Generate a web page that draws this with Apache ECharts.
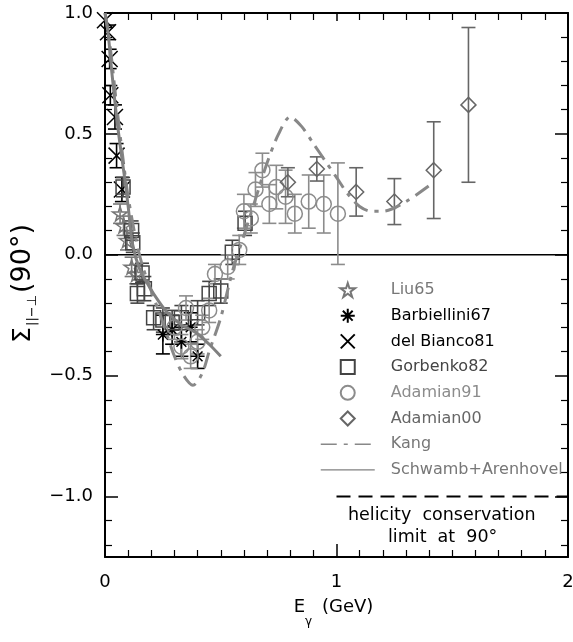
<!DOCTYPE html>
<html><head><meta charset="utf-8">
<script src="https://cdn.jsdelivr.net/npm/echarts@6/dist/echarts.min.js"></script>
<style>html,body{margin:0;padding:0;background:#fff}#c{width:573px;height:642px}</style>
</head><body><div id="c"></div>
<script>
// ---- data ----
const liu65X = [0.065, 0.08, 0.095, 0.115, 0.135];
const liu65Y = [0.17, 0.12, 0.06, -0.05, -0.08];
const liu65E = [0.04, 0.04, 0.04, 0.04, 0.04];

const barbX = [0.25, 0.29, 0.33, 0.37, 0.40];
const barbY = [-0.33, -0.31, -0.36, -0.30, -0.42];
const barbE = [0.08, 0.06, 0.06, 0.06, 0.05];

const delBiancoX = [0.0, 0.013, 0.02, 0.023, 0.043, 0.05, 0.073];
const delBiancoY = [0.97, 0.92, 0.81, 0.66, 0.57, 0.41, 0.27];
const delBiancoE = [0.03, 0.03, 0.04, 0.04, 0.05, 0.05, 0.05];

const gorbX = [0.078, 0.115, 0.12, 0.14, 0.16, 0.17, 0.21, 0.25, 0.29, 0.33, 0.40, 0.45, 0.50, 0.55, 0.605];
const gorbY = [0.28, 0.10, 0.05, -0.16, -0.075, -0.14, -0.26, -0.27, -0.28, -0.26, -0.24, -0.16, -0.15, 0.01, 0.13];
const gorbE = [0.04, 0.04, 0.04, 0.04, 0.04, 0.05, 0.05, 0.05, 0.05, 0.05, 0.05, 0.05, 0.05, 0.05, 0.05];

const ad91X = [0.30, 0.33, 0.35, 0.37, 0.40, 0.42, 0.45, 0.475, 0.53, 0.58, 0.60, 0.63, 0.65, 0.68, 0.71, 0.74, 0.78, 0.82, 0.88, 0.945, 1.006];
const ad91Y = [-0.30, -0.38, -0.22, -0.42, -0.36, -0.30, -0.23, -0.08, -0.05, 0.02, 0.18, 0.15, 0.27, 0.35, 0.21, 0.28, 0.24, 0.17, 0.22, 0.21, 0.17];
const ad91E = [0.05, 0.05, 0.05, 0.05, 0.05, 0.05, 0.05, 0.04, 0.05, 0.06, 0.07, 0.06, 0.07, 0.07, 0.08, 0.09, 0.11, 0.08, 0.11, 0.12, 0.21];

const ad00X = [0.79, 0.915, 1.085, 1.25, 1.42, 1.57];
const ad00Y = [0.30, 0.355, 0.26, 0.22, 0.35, 0.62];
const ad00E = [0.06, 0.05, 0.10, 0.095, 0.20, 0.32];

const kangX = [0, 0.02, 0.05, 0.08, 0.10, 0.13, 0.16, 0.20, 0.25, 0.30, 0.34, 0.38, 0.42, 0.45, 0.50, 0.55, 0.60, 0.65, 0.70, 0.75, 0.80, 0.85, 0.90, 0.95, 1.00, 1.05, 1.10, 1.15, 1.20, 1.30, 1.42];
const kangY = [1.0, 0.88, 0.62, 0.38, 0.24, 0.08, -0.04, -0.15, -0.28, -0.42, -0.50, -0.54, -0.49, -0.40, -0.26, -0.07, 0.08, 0.23, 0.38, 0.50, 0.57, 0.53, 0.46, 0.39, 0.32, 0.25, 0.20, 0.18, 0.18, 0.22, 0.30];

const schwX = [0, 0.013, 0.03, 0.05, 0.07, 0.086, 0.10, 0.12, 0.15, 0.19, 0.23, 0.27, 0.33, 0.39, 0.45, 0.50];
const schwY = [1.0, 0.92, 0.75, 0.57, 0.42, 0.31, 0.20, 0.04, -0.06, -0.13, -0.19, -0.24, -0.29, -0.32, -0.37, -0.42];

const limitX = [1.0, 2.0];
const limitY = [-1.0, -1.0];
const zeroX = [0, 2];
const zeroY = [0, 0];

const xTicks = [0, 1, 2];
const yTickLabels = ['-1.0', '-0.5', '0.0', '0.5', '1.0'];

// ---- helpers ----
const pair = (xs, ys) => xs.map((x, i) => [x, ys[i]]);
function errSeries(xs, ys, es, color) {
  return {
    type: 'custom', silent: true, z: 3, clip: true,
    data: xs.map((x, i) => [x, ys[i] - es[i], ys[i] + es[i]]),
    encode: { x: 0, y: [1, 2] },
    renderItem: (params, api) => {
      const lo = api.coord([api.value(0), api.value(1)]);
      const hi = api.coord([api.value(0), api.value(2)]);
      const w = 7, st = { stroke: color, lineWidth: 1.6 };
      return { type: 'group', children: [
        { type: 'line', shape: { x1: lo[0], y1: lo[1], x2: hi[0], y2: hi[1] }, style: st },
        { type: 'line', shape: { x1: lo[0] - w, y1: lo[1], x2: lo[0] + w, y2: lo[1] }, style: st },
        { type: 'line', shape: { x1: hi[0] - w, y1: hi[1], x2: hi[0] + w, y2: hi[1] }, style: st }
      ]};
    }
  };
}
function scat(name, xs, ys, symbol, size, color) {
  return {
    type: 'scatter', name, data: pair(xs, ys), symbol, symbolSize: size, z: 4, symbolKeepAspect: true,
    itemStyle: { color: 'rgba(0,0,0,0)', borderColor: color, borderWidth: 1.5, opacity: 1 },
    emphasis: { disabled: true }
  };
}
const STAR = 'path://M50,2 L61,37 L98,37 L68,59 L79,94 L50,72 L21,94 L32,59 L2,37 L39,37 Z';
const AST = 'path://M50,0L50,100M0,50L100,50M15,15L85,85M85,15L15,85';
const CROSS = 'path://M0,0L100,100M100,0L0,100';
const SQUARE = 'path://M0,0L100,0L100,100L0,100Z';
const DIAMOND = 'path://M50,0L100,50L50,100L0,50Z';
const CIRCLE = 'path://M100,50A50,50,0,1,1,0,50A50,50,0,1,1,100,50Z';

const FONT = 'DejaVu Sans';
const minus = s => String(s).replace('-', '\u2212');

const c1 = '#777', c2 = '#000', c3 = '#000', c4 = '#444', c5 = '#8c8c8c', c6 = '#666';
const noSym = { color: 'rgba(0,0,0,0)', borderColor: 'rgba(0,0,0,0)', borderWidth: 0 };

const chart = echarts.init(document.getElementById('c'), null, { renderer: 'canvas' });
const axCommon = {
  axisLine: { show: true, onZero: false, lineStyle: { color: '#000', width: 2 } },
  axisTick: { show: true, inside: true, length: 13, lineStyle: { color: '#000', width: 1.5 } },
  minorTick: { show: true, splitNumber: 10, length: 7, lineStyle: { color: '#000', width: 1.2 } },
  splitLine: { show: false }
};
chart.setOption({
  animation: false,
  backgroundColor: '#fff',
  grid: { left: 105, right: 5, top: 13, bottom: 85, containLabel: false, outerBoundsMode: 'none' },
  xAxis: [
    Object.assign({ type: 'value', min: xTicks[0], max: xTicks[xTicks.length - 1], interval: 1, position: 'bottom',
      axisLabel: { show: true, margin: 16, color: '#000', fontFamily: FONT, fontSize: 18, formatter: v => String(v) },
      name: '{a|E}{s|\u03b3}{a| (GeV)}', nameLocation: 'middle', nameGap: 41,
      nameTextStyle: { padding: [0, 6, 0, 0], rich: {
        a: { fontFamily: FONT, fontSize: 18, color: '#000', verticalAlign: 'top', lineHeight: 22 },
        s: { fontFamily: FONT, fontSize: 12, color: '#000', verticalAlign: 'bottom', lineHeight: 30, padding: [0, 4, 0, 0] } } }
    }, axCommon),
    Object.assign({ type: 'value', min: 0, max: 2, interval: 1, position: 'top', axisLabel: { show: false } },
      axCommon, { axisTick: { show: true, inside: true, length: 8, lineStyle: { color: '#000', width: 1.5 } } })
  ],
  yAxis: [
    Object.assign({ type: 'value', min: -1.25, max: 1.0, minInterval: 0.5, maxInterval: 0.5, splitNumber: 5, position: 'left',
      axisLabel: { show: true, margin: 12, color: '#000', fontFamily: FONT, fontSize: 18,
        formatter: v => { const s = v.toFixed(1); return yTickLabels.indexOf(s === '-0.0' ? '0.0' : s) >= 0 ? minus(s) : ''; } }
    }, axCommon, { minorTick: { show: true, splitNumber: 5, length: 7, lineStyle: { color: '#000', width: 1.2 } } }),
    Object.assign({ type: 'value', min: -1.25, max: 1.0, minInterval: 0.5, maxInterval: 0.5, splitNumber: 5, position: 'right', axisLabel: { show: false } },
      axCommon, { minorTick: { show: true, splitNumber: 5, length: 7, lineStyle: { color: '#000', width: 1.2 } } })
  ],
  legend: {
    orient: 'vertical', left: 320, top: 282, itemWidth: 54, itemHeight: 14, itemGap: 9.7, padding: 0,
    selectedMode: false, align: 'left', symbolKeepAspect: true,
    textStyle: { fontFamily: FONT, fontSize: 16, padding: [0, 0, 0, 11] },
    data: [
      { name: 'Liu65', textStyle: { color: c1 } },
      { name: 'Barbiellini67', textStyle: { color: c2 } },
      { name: 'del Bianco81', textStyle: { color: c3 } },
      { name: 'Gorbenko82', icon: SQUARE, textStyle: { color: c4 } },
      { name: 'Adamian91', icon: CIRCLE, textStyle: { color: c5 } },
      { name: 'Adamian00', icon: DIAMOND, textStyle: { color: c6 } },
      { name: 'Kang', textStyle: { color: '#777' }, itemStyle: noSym, lineStyle: { width: 1.5 } },
      { name: 'Schwamb+Arenhovel', textStyle: { color: '#777' }, itemStyle: noSym, lineStyle: { width: 1.2 } }
    ]
  },
  graphic: [
    { type: 'text', left: 348, top: 506, style: { text: 'helicity  conservation', font: '17.5px "DejaVu Sans"', fill: '#000' } },
    { type: 'text', left: 388, top: 528, style: { text: 'limit  at  90\u00b0', font: '17.5px "DejaVu Sans"', fill: '#000' } },
    { type: 'group', x: 23, y: 343, rotation: Math.PI / 2, children: [
      { type: 'text', x: 0, y: 0, style: { text: '\u03a3', font: '25px "DejaVu Sans"', fill: '#000', align: 'left', verticalAlign: 'middle' } },
      { type: 'text', x: 17, y: 10, style: { text: '||\u2212\u22a5', font: '13px "DejaVu Sans"', fill: '#000', align: 'left', verticalAlign: 'middle' } },
      { type: 'text', x: 50, y: 0, style: { text: '(90\u00b0)', font: '27px "DejaVu Sans"', fill: '#000', align: 'left', verticalAlign: 'middle' } }
    ]}
  ],
  series: [
    { type: 'line', data: pair(zeroX, zeroY), symbol: 'none', silent: true, z: 1, lineStyle: { color: '#000', width: 1.5 } },
    { type: 'line', data: pair(limitX, limitY), symbol: 'none', silent: true, z: 1, lineStyle: { color: '#000', width: 2, type: [14, 8] } },
    errSeries(liu65X, liu65Y, liu65E, c1),
    errSeries(barbX, barbY, barbE, c2),
    errSeries(delBiancoX, delBiancoY, delBiancoE, c3),
    errSeries(gorbX, gorbY, gorbE, c4),
    errSeries(ad91X, ad91Y, ad91E, c5),
    errSeries(ad00X, ad00Y, ad00E, c6),
    scat('Liu65', liu65X, liu65Y, STAR, 15, c1),
    scat('Barbiellini67', barbX, barbY, AST, 14, c2),
    scat('del Bianco81', delBiancoX, delBiancoY, CROSS, 16, c3),
    scat('Gorbenko82', gorbX, gorbY, SQUARE, 14, c4),
    scat('Adamian91', ad91X, ad91Y, CIRCLE, 15, c5),
    scat('Adamian00', ad00X, ad00Y, DIAMOND, 15, c6),
    { type: 'line', name: 'Kang', data: pair(kangX, kangY), symbol: 'none', smooth: 0.3, z: 6, silent: true,
      lineStyle: { color: '#888', width: 3, type: [16, 7, 4, 7] } },
    { type: 'line', name: 'Schwamb+Arenhovel', data: pair(schwX, schwY), symbol: 'none', smooth: 0.3, z: 6, silent: true,
      lineStyle: { color: '#808080', width: 3 } }
  ]
});
</script>
</body></html>
